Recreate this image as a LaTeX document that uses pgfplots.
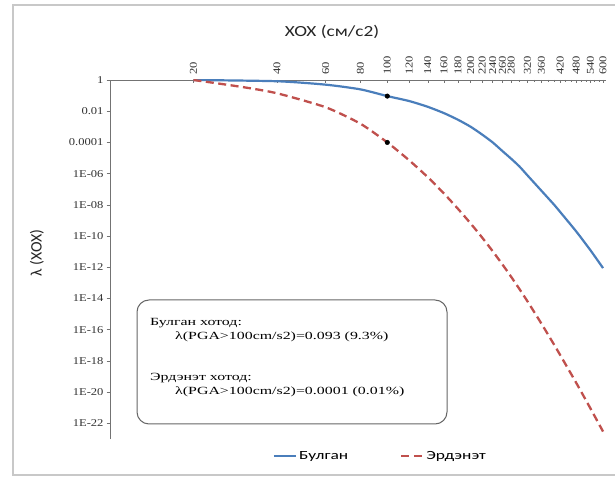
\documentclass[border=0pt]{standalone}
\usepackage{fontspec}
\usepackage{pgfplots}
\pgfplotsset{compat=1.18}
\setmainfont{Liberation Serif}
\newfontfamily\sansf{Carlito}
\newfontfamily\titlef[FakeStretch=1.25]{Carlito}
\newfontfamily\legf[FakeStretch=1.4]{Carlito}
\newfontfamily\tickf[FakeStretch=1.2]{Liberation Serif}
\newfontfamily\boxf[FakeStretch=1.45]{Liberation Serif}
\definecolor{exblue}{HTML}{4A7EBB}
\definecolor{exred}{HTML}{C0504D}
\definecolor{bordergray}{HTML}{C8C8C8}
\begin{document}
\begin{tikzpicture}[x=1bp,y=1bp]
\useasboundingbox (0,0) rectangle (615,478);
\fill[white] (0,0) rectangle (615,478);
\draw[bordergray, line width=1.5bp] (13,3) rectangle (640,473);
\node[font=\titlef\fontsize{15.5}{15.5}\selectfont, text=black!85] at (332,446) {XOX (см/с2)};
\node[rotate=90, font=\sansf\fontsize{16}{16}\selectfont, text=black!85] at (37,225) {λ (XOX)};
\begin{axis}[
  at={(110bp,398bp)}, anchor=north west,
  scale only axis, width=496bp, height=359bp,
  xmode=log, ymode=log,
  xmin=10, xmax=615, ymin=1e-23, ymax=1,
  axis x line=top, axis y line=left,
  axis line style={-, black!55, line width=0.8bp},
  tick style={black!55, line width=0.6bp},
  tick align=inside,
  ytick style={xshift=-3.5bp},
  major tick length=3.5bp, minor tick length=2.5bp,
  xtick={20,40,60,80,100,120,140,160,180,200,220,240,260,280,320,360,420,480,540,600},
  xticklabels={20,40,60,80,100,120,140,160,180,200,220,240,260,280,320,360,420,480,540,600},
  minor xtick={300,340,380,400,440,460,500,520,560,580},
  xticklabel style={rotate=90, anchor=west, font=\tickf\fontsize{10.5}{10.5}\selectfont, black!80, inner ysep=1.5bp, inner xsep=5bp},
  ytick={1,1e-2,1e-4,1e-6,1e-8,1e-10,1e-12,1e-14,1e-16,1e-18,1e-20,1e-22},
  yticklabels={1,0.01,0.0001,1E-06,1E-08,1E-10,1E-12,1E-14,1E-16,1E-18,1E-20,1E-22},
  yminorticks=false,
  yticklabel style={font=\tickf\fontsize{10.5}{10.5}\selectfont, black!80, xshift=-3bp},
  legend style={at={(0.545,-0.022)}, anchor=north, legend columns=2, draw=none, fill=none,
    font=\legf\fontsize{12.5}{12.5}\selectfont,
    /tikz/every even column/.append style={column sep=50bp}},
  legend image code/.code={\draw[#1] (0bp,0bp) -- (22bp,0bp);},
  legend cell align=left,
]
\addplot[exblue, line width=2.2bp, smooth, tension=0.4] coordinates {
(20,1) (40,0.832) (60,0.501) (80,0.251) (100,0.093) (120,0.0447) (140,0.0191) (160,7.59e-3)
(180,2.82e-3) (200,1e-3) (220,3.16e-4) (240,1e-4) (260,2.82e-5) (280,8.9e-6)
(300,2.82e-6) (320,7.9e-7) (360,7.9e-8) (400,1e-8) (420,3.55e-9) (480,2e-10)
(540,1.26e-11) (600,8.9e-13)};
\addlegendentry{Булган}
\addplot[exred, line width=2.3bp, dash pattern=on 8bp off 4.5bp, smooth, tension=0.4] coordinates {
(20,1) (30,0.355) (40,0.141) (60,0.0178) (80,1.58e-3) (100,1e-4) (120,7.1e-6)
(140,5.9e-7) (160,5.4e-8) (180,5.5e-9) (200,6.3e-10) (220,7.9e-11) (240,1.07e-11)
(260,1.55e-12) (280,2.4e-13) (300,3.9e-14) (320,6.8e-15) (360,2.4e-16) (400,1.07e-17)
(420,2.45e-18) (480,4e-20) (540,9.3e-22) (600,3e-23)};
\addlegendentry{Эрдэнэт}
\addplot[only marks, mark=*, mark size=2.3bp, black, forget plot] coordinates {(100,0.093) (100,1e-4)};
\end{axis}
\draw[black!60, line width=1bp, rounded corners=12bp] (137,178) rectangle (447,54);
\node[anchor=west, inner sep=0pt, font=\boxf\fontsize{11}{11}\selectfont] at (150,155) {Булган хотод:};
\node[anchor=west, inner sep=0pt, font=\boxf\fontsize{11}{11}\selectfont] at (175,141) {λ(PGA>100cm/s2)=0.093 (9.3\%)};
\node[anchor=west, inner sep=0pt, font=\boxf\fontsize{11}{11}\selectfont] at (150,100) {Эрдэнэт хотод:};
\node[anchor=west, inner sep=0pt, font=\boxf\fontsize{11}{11}\selectfont] at (175,86) {λ(PGA>100cm/s2)=0.0001 (0.01\%)};
\end{tikzpicture}
\end{document}
